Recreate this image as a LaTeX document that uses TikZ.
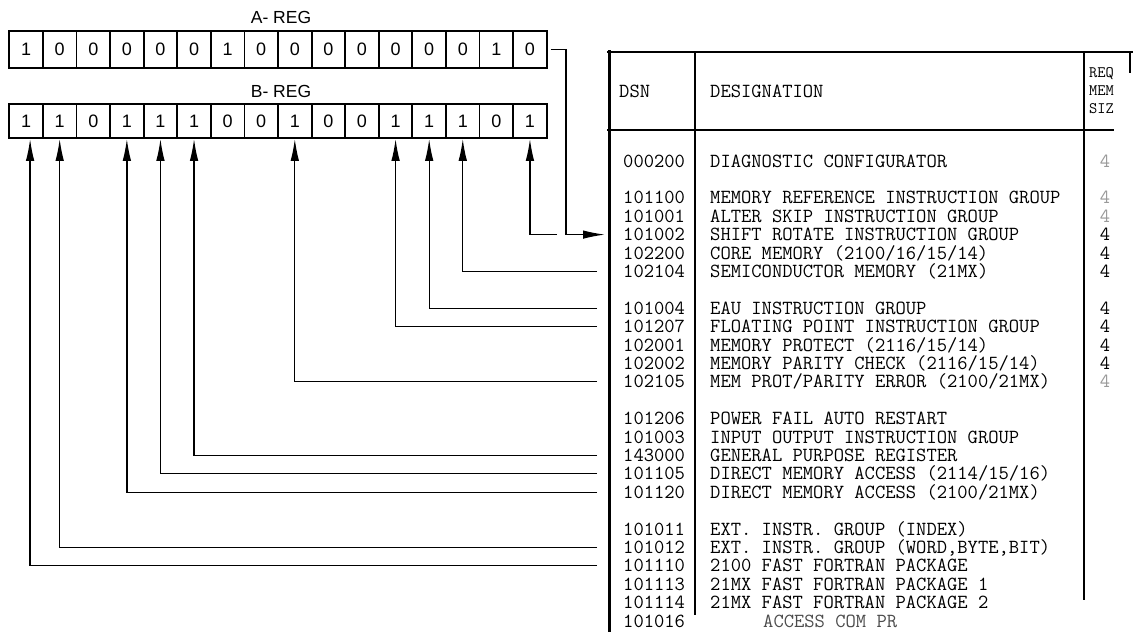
\documentclass[tikz,border=0pt]{standalone}
\usepackage{fontspec}
\usepackage{tikz}
\usetikzlibrary{arrows.meta}
\newfontfamily\regfont{Liberation Sans}
\tikzset{
  cell/.style={draw,line width=1.8pt,minimum width=33.6pt,inner sep=0pt,font=\regfont\fontsize{18}{18}\selectfont},
  acell/.style={cell,minimum height=37pt},
  bcell/.style={cell,minimum height=34pt},
  reglbl/.style={inner sep=0pt,font=\regfont\fontsize{17.5}{17.5}\selectfont},
  dsn/.style={anchor=base west,inner sep=0pt,font=\ttfamily\fontsize{20}{20}\selectfont},
  desg/.style={dsn},
  hdr/.style={dsn,font=\ttfamily\fontsize{16}{16}\selectfont},
  siz/.style={anchor=base,inner sep=0pt,font=\ttfamily\fontsize{20}{20}\selectfont},
  faded/.style={siz,text=black!40},
  rule/.style={line width=1.8pt},
  ar/.style={-{Latex[length=22pt,width=8.5pt]},line width=1.3pt},
}
\begin{document}
\begin{tikzpicture}[x=1pt,y=-1pt]
  \useasboundingbox[fill=white] (0,0) rectangle (1133,632);
  \node[reglbl] (alab) at (281,17) {A- REG};
  \node[reglbl] (blab) at (281,91) {B- REG};
  \foreach \v [count=\i from 0] in {1,0,0,0,0,0,1,0,0,0,0,0,0,0,1,0}
    \node[acell] (a\i) at ({26.1+33.59*\i},49.5) {\v};
  \foreach \v [count=\i from 0] in {1,1,0,1,1,1,0,0,1,0,0,1,1,1,0,1}
    \node[bcell] (b\i) at ({26.1+33.59*\i},121) {\v};
  % table frame
  \draw[line width=3pt] (609,50) -- (609,632);
  \draw[rule] (607,52) -- (1133,52);
  \draw[rule] (607,130) -- (1114,130);
  \draw[rule] (695,52) -- (695,615);
  \draw[rule] (1084,52) -- (1084,600);
  \draw[rule] (1130,52) -- (1130,73);
  \node[dsn] (hdsn) at (619,97) {DSN};
  \node[dsn] (hdes) at (710,97) {DESIGNATION};
  \node[hdr] (hreq) at (1089,77) {REQ};
  \node[hdr] (hmem) at (1089,95) {MEM};
  \node[hdr] (hsiz) at (1089,113) {SIZ};
  \foreach \r/\d/\t in {0/000200/{DIAGNOSTIC CONFIGURATOR},
      2/101100/{MEMORY REFERENCE INSTRUCTION GROUP},3/101001/{ALTER SKIP INSTRUCTION GROUP},
      4/101002/{SHIFT ROTATE INSTRUCTION GROUP},5/102200/{CORE MEMORY (2100/16/15/14)},
      6/102104/{SEMICONDUCTOR MEMORY (21MX)},
      8/101004/{EAU INSTRUCTION GROUP},9/101207/{FLOATING POINT INSTRUCTION GROUP},
      10/102001/{MEMORY PROTECT (2116/15/14)},11/102002/{MEMORY PARITY CHECK (2116/15/14)},
      12/102105/{MEM PROT/PARITY ERROR (2100/21MX)},
      14/101206/{POWER FAIL AUTO RESTART},15/101003/{INPUT OUTPUT INSTRUCTION GROUP},
      16/143000/{GENERAL PURPOSE REGISTER},17/101105/{DIRECT MEMORY ACCESS (2114/15/16)},
      18/101120/{DIRECT MEMORY ACCESS (2100/21MX)},
      20/101011/{EXT. INSTR. GROUP (INDEX)},21/101012/{EXT. INSTR. GROUP (WORD,BYTE,BIT)},
      22/101110/{2100 FAST FORTRAN PACKAGE},23/101113/{21MX FAST FORTRAN PACKAGE 1},
      24/101114/{21MX FAST FORTRAN PACKAGE 2}}{
    \pgfmathsetmacro\yy{161+18.4*\r}
    \node[dsn] (dsn\r) at (623,\yy+6) {\d};
    \node[desg] (des\r) at (710,\yy+6) {\t};
  }
  \node[dsn] (dsn25) at (623,627) {101016};
  \node[desg,text=black!70] (des25) at (763,627) {ACCESS COM PR};
  \foreach \r in {4,5,6,8,9,10,11}
    \node[siz] (siz\r) at (1105,{161+18.4*\r+6}) {4};
  \foreach \r in {0,2,3,12}
    \node[faded] (siz\r) at (1105,{161+18.4*\r+6}) {4};
  % bit lines
  \foreach \c/\r/\s in {13/6/0,12/8/0,11/9/0,8/12/0,5/16/0,4/17/0,3/18/0,1/21/0,0/22/4}{
    \coordinate (in\r) at (597,{161+18.4*\r});
    \draw[ar] (in\r) -| ([xshift=\s pt]b\c.south);
  }
  \coordinate (abend) at (566,49.5);
  \coordinate (in4) at (605,234.6);
  \coordinate (bjoin) at (557,234.6);
  \draw[ar] ([xshift=3pt]a15.east) -- (abend) |- (in4);
  \draw[ar] (bjoin) -| (b15.south);
\end{tikzpicture}
\end{document}
